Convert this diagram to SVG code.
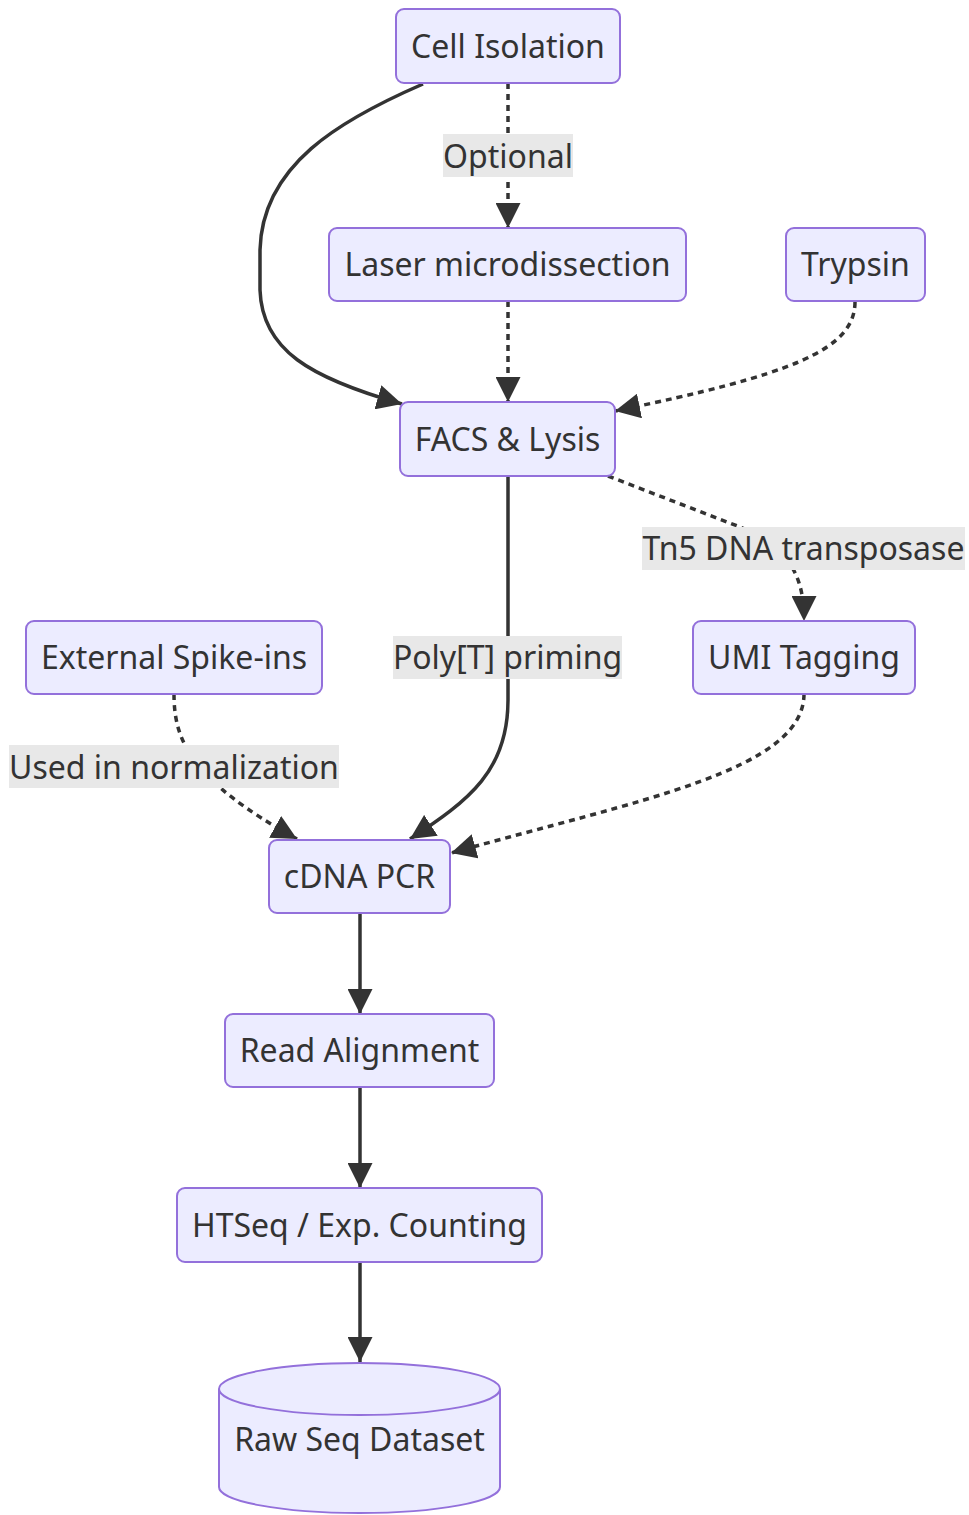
<svg xmlns="http://www.w3.org/2000/svg" width="969" height="1515" viewBox="0 0 969 1515">
<style>
.node rect,.node path{fill:#ECECFF;stroke:#9370DB;stroke-width:2}
text{font-family:"Noto Sans","Open Sans",sans-serif;font-size:32px;fill:#333;text-anchor:middle}
.edge{fill:none;stroke:#333;stroke-width:3.5}
.dot{stroke-dasharray:6 5}
.lbl{fill:#e8e8e8}
</style>
<defs>
<marker id="arr" viewBox="0 0 10 10" refX="10" refY="5" markerUnits="userSpaceOnUse" markerWidth="25" markerHeight="25" orient="auto">
<path d="M0,0 L10,5 L0,10 z" fill="#333"/>
</marker>
</defs>
<g id="connectors">
<path class="edge" d="M423,84 C340,120 262,165 260,250 L260,290 C262,350 310,378 402,404" marker-end="url(#arr)"/>
<path class="edge dot" d="M508,83 L508,228" marker-end="url(#arr)"/>
<path class="edge dot" d="M508,301 L508,402" marker-end="url(#arr)"/>
<path class="edge dot" d="M855,302 C855,350 790,375 615,411" marker-end="url(#arr)"/>
<path class="edge dot" d="M608,476 L740,527 C790,550 804,575 804,621" marker-end="url(#arr)"/>
<path class="edge" d="M508,476 L508,700 C508,770 470,800 410,839" marker-end="url(#arr)"/>
<path class="edge dot" d="M174,694 C174,740 190,780 297,839" marker-end="url(#arr)"/>
<path class="edge dot" d="M804,694 C804,770 640,800 451,853" marker-end="url(#arr)"/>
<path class="edge" d="M360,913 L360,1014" marker-end="url(#arr)"/>
<path class="edge" d="M360,1087 L360,1188" marker-end="url(#arr)"/>
<path class="edge" d="M360,1262 L360,1362" marker-end="url(#arr)"/>
</g>
<g id="edge-labels">
<rect class="lbl" x="443" y="134" width="130" height="43"/>
<text x="508" y="167.5">Optional</text>
<rect class="lbl" x="642" y="527" width="323" height="43"/>
<text x="803.5" y="559.5">Tn5 DNA transposase</text>
<rect class="lbl" x="393" y="636" width="229" height="43"/>
<text x="507.5" y="669">Poly[T] priming</text>
<rect class="lbl" x="9" y="745" width="330" height="43"/>
<text x="174" y="778.5">Used in normalization</text>
</g>
<g id="cell-isolation" class="node"><rect x="396" y="9" width="224" height="74" rx="8"/><text x="508" y="57.5">Cell Isolation</text></g>
<g id="laser" class="node"><rect x="329" y="228" width="357" height="73" rx="8"/><text x="507.5" y="276">Laser microdissection</text></g>
<g id="trypsin" class="node"><rect x="786" y="228" width="139" height="73" rx="8"/><text x="855.5" y="276">Trypsin</text></g>
<g id="facs" class="node"><rect x="400" y="402" width="215" height="74" rx="8"/><text x="507.5" y="450.5">FACS &amp; Lysis</text></g>
<g id="spike" class="node"><rect x="26" y="621" width="296" height="73" rx="8"/><text x="174" y="669">External Spike-ins</text></g>
<g id="umi" class="node"><rect x="693" y="621" width="222" height="73" rx="8"/><text x="804" y="669">UMI Tagging</text></g>
<g id="cdna" class="node"><rect x="269" y="840" width="181" height="73" rx="8"/><text x="359.5" y="888">cDNA PCR</text></g>
<g id="align" class="node"><rect x="225" y="1014" width="269" height="73" rx="8"/><text x="359.5" y="1062">Read Alignment</text></g>
<g id="htseq" class="node"><rect x="177" y="1188" width="365" height="74" rx="8"/><text x="359.5" y="1236.5">HTSeq / Exp. Counting</text></g>
<g id="raw" class="node"><path d="M219,1389 a140.5,26 0 0,0 281,0 a140.5,26 0 0,0 -281,0 l0,98 a140.5,26 0 0,0 281,0 l0,-98"/><text x="359.5" y="1451">Raw Seq Dataset</text></g>
</svg>
